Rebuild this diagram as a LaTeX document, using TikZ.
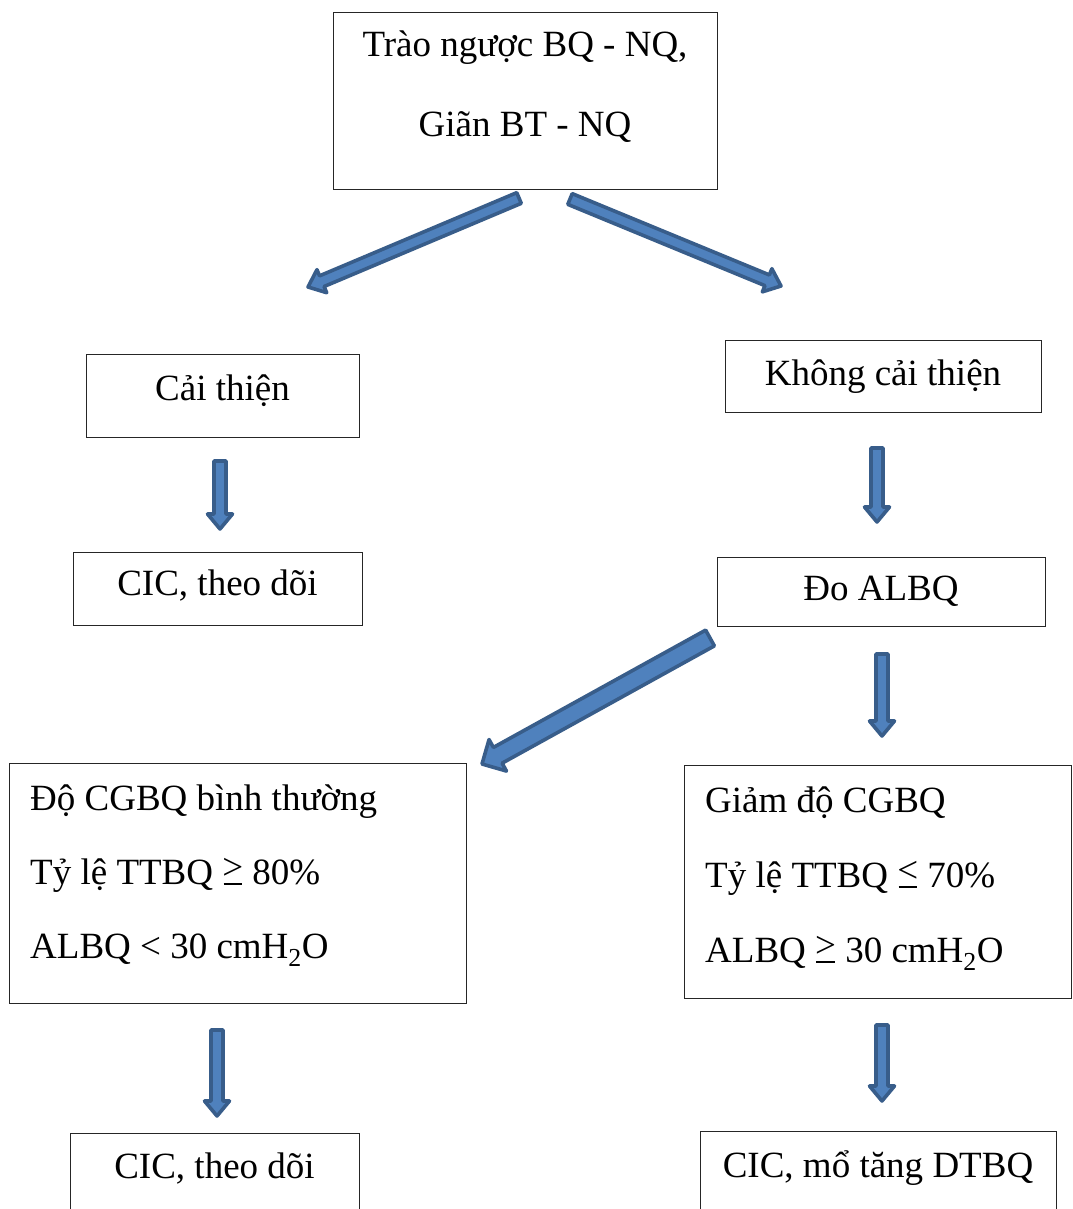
\documentclass[tikz,border=0pt]{standalone}
\usepackage{fontspec}
\setmainfont{Liberation Serif}
\usetikzlibrary{calc}
\definecolor{arrfill}{HTML}{4F81BD}
\definecolor{arrline}{HTML}{385D8A}
\tikzset{
  box/.style={draw=black!85, line width=1.3pt, rectangle, inner sep=0pt, anchor=north west},
  txt/.style={anchor=base, inner sep=0pt, font=\fontsize{37}{44}\selectfont},
  ltxt/.style={anchor=base west, inner sep=0pt, font=\fontsize{37}{44}\selectfont},
  blockarr/.style={fill=arrfill, draw=arrline, line width=3.6pt, line join=round},
}
% Times-style relation signs with a horizontal bar underneath
\newcommand{\mygeq}{\ooalign{\raisebox{0.12em}{>}\cr\hidewidth\rule[-0.02em]{0.5em}{0.05em}\hidewidth\cr}}
\newcommand{\myleq}{\ooalign{\raisebox{0.12em}{<}\cr\hidewidth\rule[-0.02em]{0.5em}{0.05em}\hidewidth\cr}}
% #1 start, #2 end, #3 shaft half width, #4 head half width, #5 head length
\newcommand{\blockarrow}[5]{%
  \coordinate (hb) at ($(#2)!#5!(#1)$);
  \draw[blockarr] ($(#1)!#3!90:(#2)$) -- ($(hb)!#3!90:(#2)$) -- ($(hb)!#4!90:(#2)$) -- (#2)
    -- ($(hb)!#4!-90:(#2)$) -- ($(hb)!#3!-90:(#2)$) -- ($(#1)!#3!-90:(#2)$) -- cycle;}
\begin{document}
\begin{tikzpicture}[x=1pt, y=-1pt]
\useasboundingbox (0,0) rectangle (1072,1209);
\fill[white] (0,0) rectangle (1072,1209);
\clip (0,0) rectangle (1072,1209);

% boxes
\node[box, minimum width=384pt, minimum height=177pt] (top) at (333,12) {};
\node[box, minimum width=273pt, minimum height=83pt] (cai) at (86,354) {};
\node[box, minimum width=316pt, minimum height=72pt] (khong) at (725,340) {};
\node[box, minimum width=289pt, minimum height=73pt] (cic1) at (73,552) {};
\node[box, minimum width=328pt, minimum height=69pt] (do) at (717,557) {};
\node[box, minimum width=457pt, minimum height=240pt] (nor) at (9,763) {};
\node[box, minimum width=387pt, minimum height=233pt] (giam) at (684,765) {};
\node[box, minimum width=289pt, minimum height=127pt] (cic2) at (70,1133) {};
\node[box, minimum width=356pt, minimum height=129pt] (mo) at (700,1131) {};

% texts
\node[txt] (t1) at (525,57) {Trào ngược BQ - NQ,};
\node[txt] (t2) at (525,137) {Giãn BT - NQ};
\node[txt] (t3) at (222.5,400) {Cải thiện};
\node[txt] (t4) at (883,385) {Không cải thiện};
\node[txt] (t5) at (217.5,595) {CIC, theo dõi};
\node[txt] (t6) at (881,600) {Đo ALBQ};
\node[ltxt] (t7) at (30,810) {Độ CGBQ bình thường};
\node[ltxt] (t8) at (30,884) {Tỷ lệ TTBQ \mygeq{} 80\%};
\node[ltxt] (t9) at (30,958) {ALBQ < 30 cmH\textsubscript{2}O};
\node[ltxt] (t10) at (705,812) {Giảm độ CGBQ};
\node[ltxt] (t11) at (705,887) {Tỷ lệ TTBQ \myleq{} 70\%};
\node[ltxt] (t12) at (705,962) {ALBQ \mygeq{} 30 cmH\textsubscript{2}O};
\node[txt] (t13) at (214.5,1178) {CIC, theo dõi};
\node[txt] (t14) at (878,1177) {CIC, mổ tăng DTBQ};

% arrow end points
\coordinate (a1s) at (519,198); \coordinate (a1e) at (308,287);
\coordinate (a2s) at (570,199); \coordinate (a2e) at (781,286);
\coordinate (a3s) at (220,461); \coordinate (a3e) at (220,529);
\coordinate (a4s) at (877,448); \coordinate (a4e) at (877,522);
\coordinate (a5s) at (710,638); \coordinate (a5e) at (482,764);
\coordinate (a6s) at (882,654); \coordinate (a6e) at (882,736);
\coordinate (a7s) at (217,1030); \coordinate (a7e) at (217,1116);
\coordinate (a8s) at (882,1025); \coordinate (a8e) at (882,1101);

\blockarrow{a1s}{a1e}{5.8pt}{12.5pt}{15pt}
\blockarrow{a2s}{a2e}{5.8pt}{12.5pt}{15pt}
\blockarrow{a3s}{a3e}{6pt}{12.5pt}{15pt}
\blockarrow{a4s}{a4e}{6pt}{12.5pt}{15pt}
\blockarrow{a5s}{a5e}{9pt}{18pt}{18pt}
\blockarrow{a6s}{a6e}{6pt}{12.5pt}{15pt}
\blockarrow{a7s}{a7e}{6pt}{12.5pt}{15pt}
\blockarrow{a8s}{a8e}{6pt}{12.5pt}{15pt}
\end{tikzpicture}
\end{document}
